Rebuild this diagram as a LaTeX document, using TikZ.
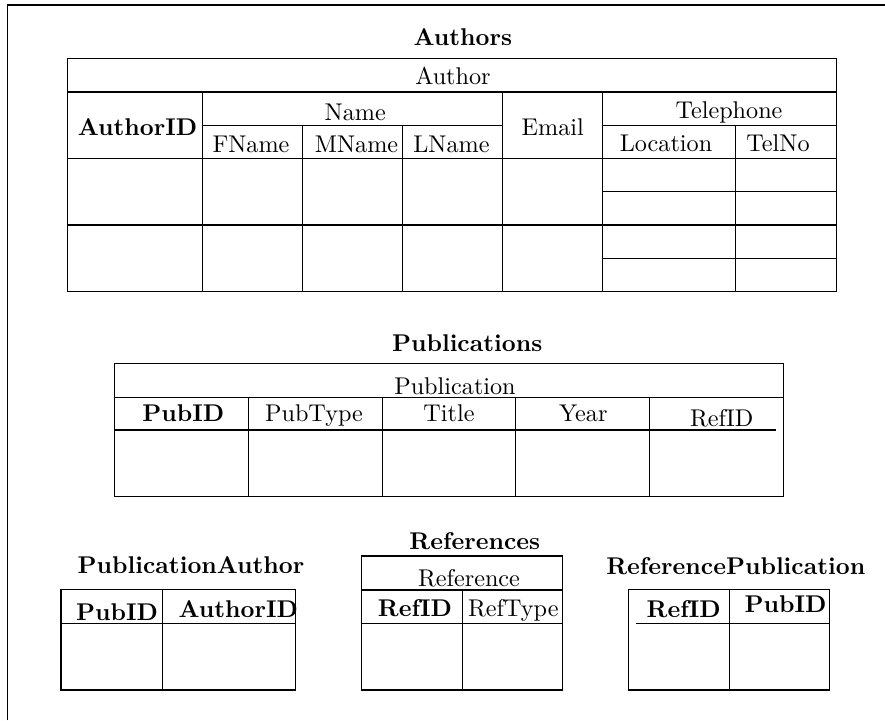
\documentclass[tikz,border=0pt]{standalone}
\begin{document}
\begin{tikzpicture}[x=0.4132pt,y=-0.4132pt,
  txt/.style={anchor=base,inner sep=0pt,font=\normalsize},
  bold/.style={txt,font=\bfseries},
  tbl/.style={line width=0.45pt}]
\useasboundingbox (0,0) rectangle (885,720);
% frame
\draw[tbl] (7.5,720) -- (7.5,5) -- (885,5);

% ---------------- Authors ----------------
\node[bold] (tA) at (462.8,45) {Authors};
\draw[tbl] (67.7,58.7) rectangle (836.7,291.7);
\draw[tbl] (67.7,92) -- (836.7,92);
\draw[tbl] (67.7,158.3) -- (836.7,158.3);
\draw[tbl] (67.7,225) -- (836.7,225);
\draw[tbl] (202.3,125.3) -- (502.3,125.3);
\draw[tbl] (602.3,125.3) -- (836.7,125.3);
\draw[tbl] (602.3,191.7) -- (836.7,191.7);
\draw[tbl] (602.3,258.3) -- (836.7,258.3);
\draw[tbl] (202.3,92) -- (202.3,291.7);
\draw[tbl] (302.3,125.3) -- (302.3,291.7);
\draw[tbl] (402.3,125.3) -- (402.3,291.7);
\draw[tbl] (502.3,92) -- (502.3,291.7);
\draw[tbl] (602.3,92) -- (602.3,291.7);
\draw[tbl] (735.7,125.3) -- (735.7,291.7);
\node[txt] (aAuthor) at (453,84.3) {Author};
\node[bold] (aID) at (137.5,135) {AuthorID};
\node[txt] (aName) at (355.3,120) {Name};
\node[txt] (aF) at (251,152.7) {FName};
\node[txt] (aM) at (356.5,152.7) {MName};
\node[txt] (aL) at (451.5,152.7) {LName};
\node[txt] (aE) at (552.8,135) {Email};
\node[txt] (aT) at (729,118.3) {Telephone};
\node[txt] (aLoc) at (666,151.7) {Location};
\node[txt] (aNo) at (778,151.7) {TelNo};

% ---------------- Publications ----------------
\node[bold] (tP) at (467.2,351.7) {Publications};
\draw[tbl] (114.3,363.3) rectangle (783.3,496.7);
\draw[tbl] (114.3,397.7) -- (783.3,397.7);
\draw[tbl] (114.3,430) -- (776,430);
\foreach \xx in {248.7,382.3,515.3,649.3}
  \draw[tbl] (\xx,397.7) -- (\xx,496.7);
\node[txt] (pPub) at (455,394.3) {Publication};
\node[bold] (pID) at (183.3,421.7) {PubID};
\node[txt] (pType) at (314,421.7) {PubType};
\node[txt] (pTitle) at (449,421.7) {Title};
\node[txt] (pYear) at (583.3,421.7) {Year};
\node[txt] (pRef) at (721.7,426.5) {RefID};

% ---------------- PublicationAuthor ----------------
\node[bold] (tPA) at (191,573.3) {PublicationAuthor};
\draw[tbl] (61,589.3) rectangle (295.7,690);
\draw[tbl] (61,623.3) -- (295.7,623.3);
\draw[tbl] (162.3,589.3) -- (162.3,690);
\node[bold] (paP) at (117,620) {PubID};
\node[bold] (paA) at (238.3,617.3) {AuthorID};

% ---------------- References ----------------
\node[bold] (tR) at (474.8,549.3) {References};
\draw[tbl] (361.7,556) rectangle (562.7,690);
\draw[tbl] (361.7,590) -- (562.7,590);
\draw[tbl] (361.7,623.3) -- (562.7,623.3);
\draw[tbl] (462.3,590) -- (462.3,690);
\node[txt] (rRef) at (469,586.7) {Reference};
\node[bold] (rID) at (415,616) {RefID};
\node[txt] (rType) at (513.3,616) {RefType};

% ---------------- ReferencePublication ----------------
\node[bold] (tRP) at (735.8,574.3) {ReferencePublication};
\draw[tbl] (628.7,589.3) rectangle (829.3,690);
\draw[tbl] (636,623.3) -- (829.3,623.3);
\draw[tbl] (729.3,589.3) -- (729.3,690);
\node[bold] (rpR) at (683.7,617.7) {RefID};
\node[bold] (rpP) at (785.5,612.7) {PubID};
\end{tikzpicture}
\end{document}
